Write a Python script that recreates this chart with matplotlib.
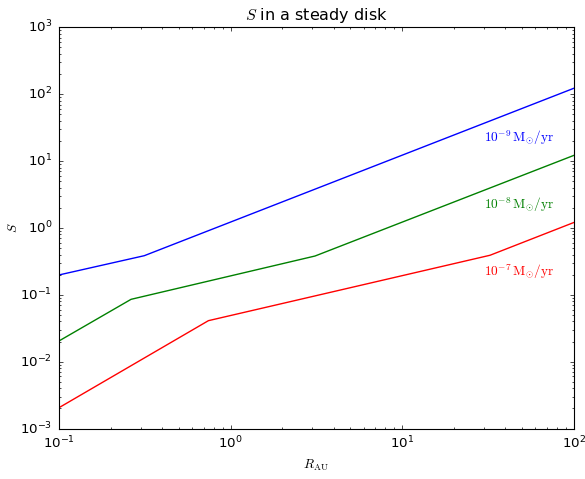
import matplotlib
matplotlib.use("Agg")
import matplotlib.pyplot as plt

plt.style.use('classic')
plt.rcParams['mathtext.fontset'] = 'cm'
plt.rcParams['figure.facecolor'] = 'white'
plt.rcParams['savefig.facecolor'] = 'white'
s = 0.8
plt.rcParams['font.size'] = 12 * s
plt.rcParams['xtick.major.size'] = 4 * s
plt.rcParams['ytick.major.size'] = 4 * s
plt.rcParams['xtick.minor.size'] = 2 * s
plt.rcParams['ytick.minor.size'] = 2 * s
plt.rcParams['xtick.major.pad'] = 6 * s
plt.rcParams['ytick.major.pad'] = 6 * s
plt.rcParams['axes.linewidth'] = 1.0 * s
plt.rcParams['axes.labelpad'] = 5 * s

# Data
R_blue = [0.1, 0.314, 100.0]
S_blue = [0.198, 0.384, 122.0]
R_green = [0.1, 0.263, 3.11, 100.0]
S_green = [0.0204, 0.0855, 0.38, 12.1]
R_red = [0.1, 0.743, 32.6, 100.0]
S_red = [0.00205, 0.041, 0.39, 1.2]

labels = [r'$10^{-9}\,\mathrm{M}_{\odot}/\mathrm{yr}$',
          r'$10^{-8}\,\mathrm{M}_{\odot}/\mathrm{yr}$',
          r'$10^{-7}\,\mathrm{M}_{\odot}/\mathrm{yr}$']
label_x = [30, 30, 30]
label_y = [22, 2.2, 0.22]
colors = ['b', 'g', 'r']

fig = plt.figure(figsize=(5.85, 4.79), dpi=100)
ax = fig.add_axes([0.1009, 0.1054, 0.8795, 0.8376])

for R, S, c in zip([R_blue, R_green, R_red], [S_blue, S_green, S_red], colors):
    ax.plot(R, S, color=c, lw=1.0)

for x, y, t, c in zip(label_x, label_y, labels, colors):
    ax.text(x, y, t, color=c, ha='left', va='center', fontsize=12 * s)

ax.set_xscale('log')
ax.set_yscale('log')
ax.set_xlim(0.1, 100)
ax.set_ylim(1e-3, 1e3)
ax.set_xlabel(r'$R_{\rm AU}$')
ax.set_ylabel(r'$S$', labelpad=0)
ax.set_title(r'$S$ in a steady disk', fontsize=14.4 * s)

fig.savefig('out.png', dpi=100)
